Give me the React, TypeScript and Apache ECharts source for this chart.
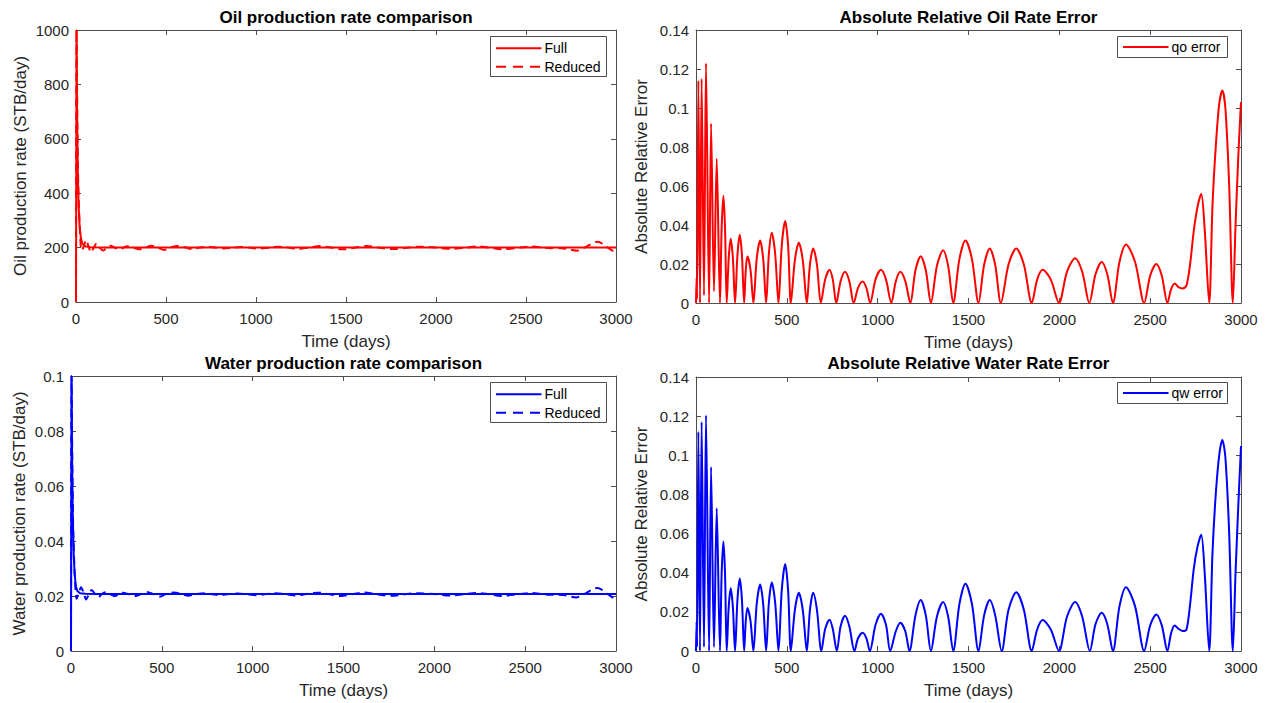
import React, { useEffect, useRef } from "react";
import * as echarts from "echarts";

const FONT = "'Liberation Sans', Arial, Helvetica, sans-serif";
const AXIS_COLOR = "#4d4d4d";
const TEXT_COLOR = "#262626";

const xTicks = { min: 0, max: 3000, interval: 500 };

const oilFull: [number, number][] = [
  [0, 0], [3, 1000], [6, 700], [10, 480], [15, 350], [20, 280], [27, 235], [35, 215],
  [50, 205], [80, 201], [150, 200], [3000, 200],
];

const oilReduced: [number, number][] = [
  [0, 0], [3, 1000], [8, 640], [13, 420], [22, 260], [31, 190], [44, 205], [55, 228],
  [72, 200], [83, 182], [99, 200], [114, 215], [132, 200], [151, 189], [169, 200],
  [191, 207], [215, 200], [241, 193], [265, 200], [283, 205], [316, 200], [353, 193.5],
  [386, 200], [417, 207], [454, 200], [491, 191.5], [522, 200], [566, 206], [610, 200],
  [645, 194.5], [687, 200], [735, 203.5], [772, 200], [820, 197], [868, 200], [917, 202],
  [959, 200], [1018, 196.5], [1075, 200], [1125, 203], [1180, 200], [1237, 195], [1293, 200],
  [1360, 205.5], [1416, 200], [1483, 193.5], [1555, 200], [1617, 205.6], [1678, 200],
  [1763, 194.4], [1848, 200], [1908, 203.5], [1998, 200], [2087, 195.4], [2165, 200],
  [2233, 204], [2295, 200], [2367, 194], [2467, 200], [2534, 204], [2595, 200], [2635, 198],
  [2680, 198.5], [2720, 196], [2781, 188.8], [2825, 200], [2897, 221.8], [2955, 200],
  [3000, 179.4],
];

const waterFull: [number, number][] = [
  [0, 0], [3, 0.1], [6, 0.07], [10, 0.048], [15, 0.035], [20, 0.028], [27, 0.0235],
  [35, 0.0218], [50, 0.021], [80, 0.0208], [150, 0.0207], [3000, 0.0207],
];

const waterReduced: [number, number][] = [
  [0, 0], [3, 0.1], [8, 0.064], [13, 0.042], [22, 0.026], [31, 0.019], [44, 0.0212],
  [55, 0.0232], [72, 0.0207], [83, 0.01875], [99, 0.0207], [114, 0.0222], [132, 0.0207],
  [151, 0.0195], [169, 0.0207], [191, 0.02136], [215, 0.0207], [241, 0.01994], [265, 0.0207],
  [283, 0.02116], [316, 0.0207], [353, 0.02], [386, 0.0207], [417, 0.02143], [454, 0.0207],
  [491, 0.01978], [522, 0.0207], [566, 0.02131], [610, 0.0207], [645, 0.02009], [687, 0.0207],
  [735, 0.02103], [772, 0.0207], [820, 0.02032], [868, 0.0207], [917, 0.02089], [959, 0.0207],
  [1018, 0.0203], [1075, 0.0207], [1125, 0.021], [1180, 0.0207], [1237, 0.02016],
  [1293, 0.0207], [1360, 0.02122], [1416, 0.0207], [1483, 0.02], [1555, 0.0207],
  [1617, 0.02124], [1678, 0.0207], [1763, 0.02008], [1848, 0.0207], [1908, 0.02103],
  [1998, 0.0207], [2087, 0.02018], [2165, 0.0207], [2233, 0.0211], [2295, 0.0207],
  [2367, 0.02003], [2467, 0.0207], [2534, 0.02109], [2595, 0.0207], [2635, 0.02043],
  [2680, 0.02049], [2720, 0.0203], [2781, 0.01947], [2825, 0.0207], [2897, 0.02293],
  [2955, 0.0207], [3000, 0.01853],
];

const oilError: [number, number][] = [
  [0, 0], [3, 0.013], [6, 0.002], [13, 0.114], [22, 0], [31, 0.115], [44, 0.004], [55, 0.123],
  [72, 0], [83, 0.092], [99, 0.006], [114, 0.074], [132, 0],
  [141, 0.038], [151, 0.055], [160, 0.038], [169, 0],
  [180, 0.023], [191, 0.033], [203, 0.023], [215, 0],
  [228, 0.0245], [241, 0.035], [253, 0.0245], [265, 0],
  [274, 0.017], [283, 0.024], [300, 0.017], [316, 0],
  [334, 0.0225], [353, 0.032], [370, 0.0225], [386, 0],
  [401, 0.025], [417, 0.036], [436, 0.025], [454, 0],
  [472, 0.0295], [491, 0.042], [507, 0.0295], [522, 0],
  [544, 0.0217], [566, 0.031], [588, 0.0217], [610, 0],
  [627, 0.0196], [645, 0.028], [666, 0.0196], [687, 0],
  [711, 0.012], [735, 0.017], [753, 0.012], [772, 0],
  [796, 0.0112], [820, 0.016], [844, 0.0112], [868, 0],
  [892, 0.0077], [917, 0.011], [938, 0.0077], [959, 0],
  [988, 0.012], [1018, 0.017], [1046, 0.012], [1075, 0],
  [1100, 0.0112], [1125, 0.016], [1152, 0.0112], [1180, 0],
  [1208, 0.0168], [1237, 0.024], [1265, 0.0168], [1293, 0],
  [1326, 0.019], [1360, 0.027], [1388, 0.019], [1416, 0],
  [1450, 0.0225], [1483, 0.032], [1519, 0.0225], [1555, 0],
  [1586, 0.0196], [1617, 0.028], [1647, 0.0196], [1678, 0],
  [1720, 0.0196], [1763, 0.028], [1805, 0.0196], [1848, 0],
  [1878, 0.012], [1908, 0.017], [1953, 0.012], [1998, 0],
  [2042, 0.016], [2087, 0.023], [2126, 0.016], [2165, 0],
  [2199, 0.0147], [2233, 0.021], [2264, 0.0147], [2295, 0],
  [2331, 0.021], [2367, 0.03], [2417, 0.021], [2467, 0],
  [2500, 0.014], [2534, 0.02], [2564, 0.014], [2595, 0],
  [2615, 0.007], [2635, 0.01], [2658, 0.008], [2680, 0.0075], [2700, 0.009], [2720, 0.02],
  [2740, 0.037], [2760, 0.049], [2781, 0.056], [2800, 0.038], [2825, 0],
  [2843, 0.05], [2861, 0.08], [2880, 0.102], [2897, 0.109], [2914, 0.1], [2935, 0.06], [2955, 0],
  [2970, 0.04], [2985, 0.075], [3000, 0.103],
];

const waterError: [number, number][] = [
  [0, 0], [3, 0.015], [6, 0.002], [13, 0.112], [22, 0], [31, 0.117], [44, 0.002], [55, 0.1205],
  [72, 0], [83, 0.094], [99, 0.002], [114, 0.073], [132, 0],
  [141, 0.039], [151, 0.056], [160, 0.039], [169, 0],
  [180, 0.0224], [191, 0.032], [203, 0.0224], [215, 0],
  [228, 0.026], [241, 0.037], [253, 0.026], [265, 0],
  [274, 0.0154], [283, 0.022], [300, 0.0154], [316, 0],
  [334, 0.0238], [353, 0.034], [370, 0.0238], [386, 0],
  [401, 0.0245], [417, 0.035], [436, 0.0245], [454, 0],
  [472, 0.031], [491, 0.0445], [507, 0.031], [522, 0],
  [544, 0.0208], [566, 0.0297], [588, 0.0208], [610, 0],
  [627, 0.0208], [645, 0.0297], [666, 0.0208], [690, 0],
  [711, 0.0112], [735, 0.016], [753, 0.0112], [775, 0],
  [796, 0.0126], [820, 0.018], [844, 0.0126], [872, 0],
  [892, 0.0065], [917, 0.0093], [938, 0.0065], [957, 0],
  [988, 0.0133], [1018, 0.019], [1046, 0.0133], [1069, 0],
  [1100, 0.0101], [1125, 0.0144], [1152, 0.0101], [1175, 0],
  [1208, 0.0182], [1237, 0.026], [1265, 0.0182], [1293, 0],
  [1326, 0.0175], [1360, 0.025], [1388, 0.0175], [1416, 0],
  [1450, 0.024], [1483, 0.0344], [1519, 0.024], [1555, 0],
  [1586, 0.0182], [1617, 0.026], [1647, 0.0182], [1683, 0],
  [1720, 0.021], [1763, 0.03], [1805, 0.021], [1848, 0],
  [1878, 0.011], [1908, 0.0158], [1953, 0.011], [1998, 0],
  [2042, 0.0175], [2087, 0.025], [2126, 0.0175], [2168, 0],
  [2199, 0.0137], [2233, 0.0195], [2264, 0.0137], [2295, 0],
  [2331, 0.0228], [2367, 0.0326], [2417, 0.0228], [2467, 0],
  [2500, 0.0131], [2534, 0.0187], [2564, 0.0131], [2595, 0],
  [2615, 0.009], [2635, 0.013], [2658, 0.0112], [2680, 0.0102], [2700, 0.011], [2720, 0.024],
  [2740, 0.042], [2760, 0.053], [2781, 0.0594], [2800, 0.04], [2825, 0],
  [2843, 0.05], [2861, 0.08], [2880, 0.1], [2897, 0.1078], [2914, 0.099], [2935, 0.06], [2955, 0],
  [2970, 0.04], [2985, 0.074], [3000, 0.1047],
];

const titles = [
  "Oil production rate comparison",
  "Absolute Relative Oil Rate Error",
  "Water production rate comparison",
  "Absolute Relative Water Rate Error",
];
const yNames = [
  "Oil production rate (STB/day)",
  "Absolute Relative Error",
  "Water production rate (STB/day)",
  "Absolute Relative Error",
];
const yRanges = [
  { min: 0, max: 1000, interval: 200 },
  { min: 0, max: 0.14, interval: 0.02 },
  { min: 0, max: 0.1, interval: 0.02 },
  { min: 0, max: 0.14, interval: 0.02 },
];
const legendLabels = [["Full", "Reduced"], ["qo error"], ["Full", "Reduced"], ["qw error"]];
const legendColors = ["#ff0000", "#ff0000", "#0000ff", "#0000ff"];

const grids = [
  { left: 76, top: 30, width: 540, height: 272 },
  { left: 696, top: 30, width: 545, height: 273 },
  { left: 71, top: 376, width: 545, height: 275 },
  { left: 696, top: 377, width: 545, height: 274 },
];
const yNameGaps = [47, 46, 43, 46];
const titleTops = [9, 355];
// legend boxes: x, y, width, height
const legendBoxes = [
  { x: 490.5, y: 36.5, w: 116, h: 40 },
  { x: 1117.5, y: 36.5, w: 110, h: 21 },
  { x: 490.5, y: 382.5, w: 116, h: 40 },
  { x: 1117.5, y: 382.5, w: 110, h: 21 },
];

const fmt = (v: number) => String(parseFloat(v.toFixed(6)));

export default function App() {
  const ref = useRef<HTMLDivElement>(null);
  useEffect(() => {
    if (!ref.current) return;
    const chart = echarts.init(ref.current, null, { renderer: "svg" });

    const xAxes: any[] = [];
    const yAxes: any[] = [];
    grids.forEach((g, i) => {
      const base = {
        gridIndex: i,
        type: "value",
        axisLine: { show: true, onZero: false, lineStyle: { color: AXIS_COLOR, width: 1 } },
        axisTick: { show: true, inside: true, length: 5, lineStyle: { color: AXIS_COLOR } },
        splitLine: { show: false },
      };
      xAxes.push({
        ...base,
        ...xTicks,
        position: "bottom",
        name: "Time (days)",
        nameLocation: "middle",
        nameGap: 31,
        nameTextStyle: { fontSize: 17, color: TEXT_COLOR, fontFamily: FONT },
        axisLabel: { fontSize: 15, color: TEXT_COLOR, fontFamily: FONT, margin: 9, formatter: fmt },
      });
      xAxes.push({ ...base, ...xTicks, position: "top", axisLabel: { show: false } });
      yAxes.push({
        ...base,
        ...yRanges[i],
        position: "left",
        name: yNames[i],
        nameLocation: "middle",
        nameGap: yNameGaps[i],
        nameTextStyle: { fontSize: 17, color: TEXT_COLOR, fontFamily: FONT },
        axisLabel: { fontSize: 15, color: TEXT_COLOR, fontFamily: FONT, margin: 7, formatter: fmt },
      });
      yAxes.push({ ...base, ...yRanges[i], position: "right", axisLabel: { show: false } });
    });

    const line = (name: string, data: [number, number][], idx: number, color: string, dashed = false, smooth: number | boolean = false) => ({
      type: "line",
      name,
      data,
      xAxisIndex: idx * 2,
      yAxisIndex: idx * 2,
      showSymbol: false,
      symbol: "none",
      smooth,
      clip: true,
      lineStyle: { color, width: 2, type: dashed ? [8, 5] : "solid" },
      itemStyle: { color },
      z: dashed ? 3 : 2,
    });

    const graphics: any[] = [];
    legendBoxes.forEach((b, i) => {
      const labels = legendLabels[i];
      const color = legendColors[i];
      const children: any[] = [
        {
          type: "rect",
          shape: { x: 0, y: 0, width: b.w, height: b.h },
          style: { fill: "#ffffff", stroke: AXIS_COLOR, lineWidth: 1 },
        },
      ];
      labels.forEach((lab, k) => {
        const cy = labels.length === 1 ? b.h / 2 : 11.8 + k * 18.4;
        children.push({
          type: "line",
          shape: { x1: 5.5, y1: cy, x2: 51, y2: cy },
          style: { stroke: color, lineWidth: 2, lineDash: k === 1 ? [10, 7] : null },
        });
        children.push({
          type: "text",
          x: 54,
          y: cy,
          style: { text: lab, fill: "#000", font: `14px ${FONT}`, verticalAlign: "middle", align: "left" },
        });
      });
      graphics.push({ type: "group", x: b.x, y: b.y, z: 100, children });
    });

    const option: any = {
      animation: false,
      backgroundColor: "#ffffff",
      title: titles.map((t, i) => ({
        text: t,
        left: grids[i].left + grids[i].width / 2,
        top: titleTops[i < 2 ? 0 : 1],
        textAlign: "center",
        padding: 0,
        textStyle: { fontSize: 17, fontWeight: "bold", color: "#000", fontFamily: FONT },
      })),
      grid: grids,
      xAxis: xAxes,
      yAxis: yAxes,
      graphic: graphics,
      series: [
        line("Full", oilFull, 0, "#ff0000"),
        line("Reduced", oilReduced, 0, "#ff0000", true, 0.3),
        line("qo error", oilError, 1, "#ff0000", false, 0.3),
        line("Full (water)", waterFull, 2, "#0000ff"),
        line("Reduced (water)", waterReduced, 2, "#0000ff", true, 0.3),
        line("qw error", waterError, 3, "#0000ff", false, 0.3),
      ],
    };
    chart.setOption(option);
    return () => chart.dispose();
  }, []);
  return (
    <div
      ref={ref}
      style={{ position: "fixed", left: 0, top: 0, width: 1267, height: 703, background: "#fff" }}
    />
  );
}
